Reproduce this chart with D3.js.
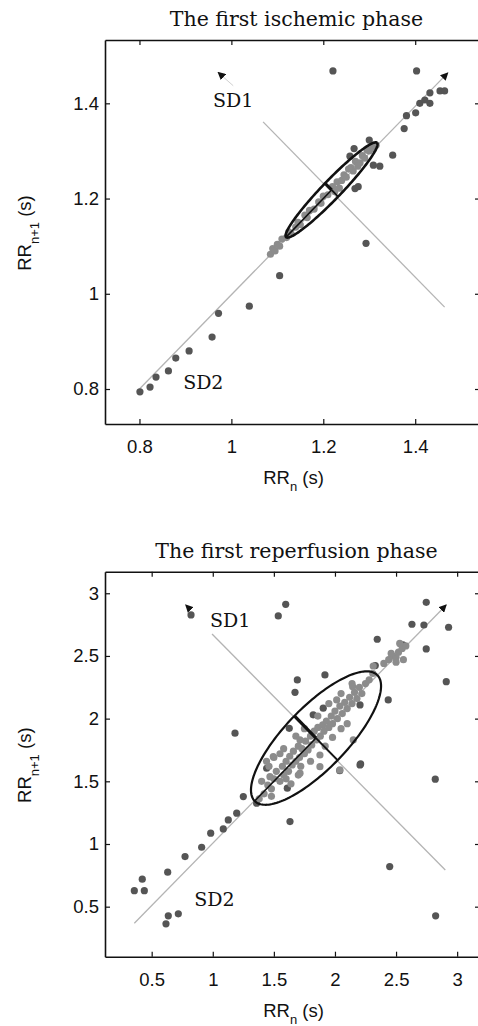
<!DOCTYPE html>
<html>
<head>
  <title>Poincare plots</title>
  <script src="https://d3js.org/d3.v7.min.js"></script>
  <style>
    body { margin: 0; background: #fff; }
    .tick-label, .axis-label { font-family: "Liberation Sans", Arial, sans-serif; font-size: 18.5px; fill: #111; }
    .title, .sd-label { font-family: "DejaVu Serif", serif; fill: #111; }
  </style>
</head>
<body>
  <script>
    // Titles of the two panels
    var titles = ["The first ischemic phase", "The first reperfusion phase"];

    // Tick values
    var xTicks1 = [0.8, 1, 1.2, 1.4];
    var yTicks1 = [0.8, 1, 1.2, 1.4];
    var xTicks2 = [0.5, 1, 1.5, 2, 2.5, 3];
    var yTicks2 = [0.5, 1, 1.5, 2, 2.5, 3];

    // Panel 1 points [RRn, RRn+1], scattered points
    var outer1 = [[1.221,1.468],[1.403,1.468],[1.432,1.422],[1.454,1.426],[1.464,1.426],[1.410,1.400],
      [1.432,1.400],[1.421,1.407],[1.401,1.380],[1.381,1.374],[1.376,1.347],[1.351,1.291],[1.300,1.323],
      [1.267,1.305],[1.309,1.270],[1.323,1.268],[1.276,1.225],[1.269,1.221],[1.293,1.106],[1.258,1.289],
      [1.105,1.038],[1.039,0.974],[0.972,0.959],[0.958,0.909],[0.908,0.880],[0.879,0.865],[0.863,0.838],
      [0.836,0.825],[0.823,0.804],[0.801,0.794]];
    // Panel 1 points inside the ellipse
    var inner1 = [[1.085,1.083],[1.090,1.095],[1.095,1.090],[1.100,1.104],[1.105,1.100],[1.110,1.115],
      [1.120,1.118],[1.125,1.130],[1.130,1.126],[1.140,1.140],[1.145,1.150],[1.150,1.145],[1.160,1.165],
      [1.165,1.160],[1.170,1.175],[1.180,1.178],[1.190,1.193],[1.195,1.190],[1.200,1.205],[1.210,1.208],
      [1.220,1.225],[1.225,1.215],[1.230,1.235],[1.240,1.238],[1.245,1.250],[1.250,1.245],[1.260,1.265],
      [1.265,1.258],[1.270,1.278],[1.280,1.275],[1.285,1.290],[1.290,1.285],[1.300,1.300],[1.305,1.310],
      [1.310,1.305],[1.315,1.312],[1.235,1.222],[1.255,1.262],[1.275,1.268],[1.295,1.302]];

    // Panel 2 points
    var outer2 = [[0.822,2.827],[1.597,2.912],[1.536,2.819],[1.182,1.884],[1.692,2.309],[1.673,2.210],
      [2.747,2.928],[2.930,2.729],[2.630,2.753],[2.728,2.747],[2.346,2.633],[2.747,2.556],[2.556,2.588],
      [2.911,2.295],[2.330,2.423],[1.918,2.349],[2.436,2.149],[2.039,1.585],[2.210,1.639],[2.821,1.517],
      [1.632,1.179],[2.448,0.820],[2.824,0.427],[1.250,1.378],[1.196,1.246],[1.127,1.192],[1.086,1.120],
      [0.983,1.086],[0.909,0.974],[0.773,0.900],[0.631,0.775],[0.423,0.719],[0.358,0.628],[0.440,0.628],
      [0.636,0.427],[0.718,0.443],[0.617,0.363],[2.205,2.109],[1.904,2.083],[1.822,2.030],[2.205,1.631],
      [1.626,1.923],[1.441,1.604],[1.610,1.445],[1.359,1.325]];
    var inner2 = [[1.38,1.36],[1.42,1.40],[1.45,1.47],[1.48,1.44],[1.50,1.52],[1.52,1.58],[1.55,1.50],
      [1.57,1.62],[1.58,1.55],[1.60,1.66],[1.62,1.58],[1.63,1.70],[1.65,1.63],[1.66,1.74],[1.68,1.66],
      [1.70,1.78],[1.71,1.69],[1.73,1.76],[1.75,1.72],[1.76,1.82],[1.78,1.75],[1.80,1.86],[1.81,1.79],
      [1.83,1.90],[1.85,1.83],[1.86,1.93],[1.88,1.86],[1.90,1.95],[1.91,1.90],[1.93,1.98],[1.95,1.93],
      [1.97,2.02],[1.98,1.96],[2.00,2.06],[2.02,2.00],[2.04,2.10],[2.06,2.04],[2.08,2.13],[2.10,2.08],
      [2.12,2.17],[2.14,2.12],[2.16,2.21],[2.18,2.16],[2.20,2.25],[2.22,2.20],[2.25,2.28],[2.28,2.31],
      [2.31,2.36],[1.46,1.62],[1.44,1.66],[1.50,1.69],[1.55,1.72],[1.60,1.52],[1.64,1.48],[1.70,1.55],
      [1.72,1.62],[1.58,1.76],[1.68,1.86],[1.75,1.92],[1.80,1.66],[1.92,1.78],[1.98,1.85],[2.05,1.92],
      [2.10,1.96],[1.86,2.02],[1.95,2.12],[2.05,2.20],[2.14,2.28],[1.40,1.50],[1.48,1.38],[2.145,2.255],
      [2.014,2.149],[1.495,1.697],[1.468,1.537],[1.714,1.565],[1.877,1.617],[1.877,1.710],[2.040,1.591],
      [2.313,2.420],[2.15,1.83],[1.714,1.83],[2.40,2.44],[2.44,2.47],[2.47,2.50],[2.50,2.49],[2.52,2.53],
      [2.55,2.56],[2.50,2.45],[2.56,2.47],[2.53,2.60],[2.58,2.58],[2.46,2.52]];

    // Poincare descriptors: ellipse centre, SD1, SD2
    var centres = [1.218, 1.845];
    var sd1 = [0.02, 0.25];
    var sd2 = [0.14, 0.71];

    // Line of identity (SD2 axis) and SD1 axis end points
    var sd2From = [[0.80, 0.80], [0.358, 0.368]];
    var sd2Tip = [[1.471, 1.464], [2.911, 2.907]];
    var sd1From = [[1.069, 1.361], [0.994, 2.675]];
    var sd1To = [[1.464, 0.972], [2.903, 0.793]];
    var sd1Tip = [[0.971, 1.465], [0.778, 2.907]];
    var sd1Shaft = [[1.004, 1.437], [0.790, 2.895]];

    // Label positions (data units)
    var sd1Pos = [[0.96, 1.392], [0.977, 2.734]];
    var sd2Pos = [[0.895, 0.801], [0.849, 0.509]];

    var panels = [
      { title: titles[0], xTicks: xTicks1, yTicks: yTicks1, outer: outer1, inner: inner1,
        xDom: [0.725, 1.541], yDom: [0.7265, 1.533], box: {left: 105, right: 480, top: 40, bottom: 424},
        tickFmt: function(d) { return d === 1 ? "1" : d3.format(".1f")(d); } },
      { title: titles[1], xTicks: xTicks2, yTicks: yTicks2, outer: outer2, inner: inner2,
        xDom: [0.118, 3.187], yDom: [0.101, 3.172], box: {left: 105, right: 480, top: 571.7, bottom: 956.7},
        tickFmt: function(d) { return d % 1 === 0 ? String(d) : d3.format(".1f")(d); } }
    ];

    var svg = d3.select("body").append("svg")
      .attr("width", 478)
      .attr("height", 1026);

    // Arrowhead marker
    svg.append("defs").append("marker")
      .attr("id", "arrow")
      .attr("viewBox", "0 0 10 10")
      .attr("refX", 9).attr("refY", 5)
      .attr("markerUnits", "userSpaceOnUse")
      .attr("markerWidth", 8).attr("markerHeight", 8)
      .attr("orient", "auto")
      .append("path")
      .attr("d", "M0,0 L10,5 L0,10 z")
      .attr("fill", "#111");

    panels.forEach(function(p, i) {
      var b = p.box;
      var x = d3.scaleLinear().domain(p.xDom).range([b.left, b.right]);
      var y = d3.scaleLinear().domain(p.yDom).range([b.bottom, b.top]);
      var g = svg.append("g");

      // Title
      g.append("text")
        .attr("class", "title")
        .attr("x", (b.left + b.right) / 2 + 4)
        .attr("y", b.top - 14)
        .attr("text-anchor", "middle")
        .style("font-size", "20.5px")
        .text(p.title);

      // Axis lines (SD2 identity line and SD1 perpendicular)
      g.append("line")
        .attr("x1", x(sd2From[i][0])).attr("y1", y(sd2From[i][1]))
        .attr("x2", x(sd2Tip[i][0])).attr("y2", y(sd2Tip[i][1]))
        .attr("stroke", "#b4b4b4").attr("stroke-width", 1.3)
        .attr("marker-end", "url(#arrow)");
      g.append("line")
        .attr("x1", x(sd1From[i][0])).attr("y1", y(sd1From[i][1]))
        .attr("x2", x(sd1To[i][0])).attr("y2", y(sd1To[i][1]))
        .attr("stroke", "#b4b4b4").attr("stroke-width", 1.3);
      g.append("line")
        .attr("x1", x(sd1Shaft[i][0])).attr("y1", y(sd1Shaft[i][1]))
        .attr("x2", x(sd1Tip[i][0])).attr("y2", y(sd1Tip[i][1]))
        .attr("stroke", "#d0d0d0").attr("stroke-width", 1)
        .attr("marker-end", "url(#arrow)");

      // Points
      g.selectAll(".outer")
        .data(p.outer)
        .enter().append("circle")
        .attr("cx", function(d) { return x(d[0]); })
        .attr("cy", function(d) { return y(d[1]); })
        .attr("r", 3.6)
        .attr("fill", "#555");
      g.selectAll(".inner")
        .data(p.inner)
        .enter().append("circle")
        .attr("cx", function(d) { return x(d[0]); })
        .attr("cy", function(d) { return y(d[1]); })
        .attr("r", 3.6)
        .attr("fill", "#8c8c8c");

      // Ellipse SD1 x SD2
      var c = centres[i], u = Math.SQRT1_2;
      var pts = d3.range(0, 2 * Math.PI + 0.01, Math.PI / 90).map(function(t) {
        var a = sd2[i] * Math.cos(t), bb = sd1[i] * Math.sin(t);
        return [x(c + (a - bb) * u), y(c + (a + bb) * u)];
      });
      g.append("path")
        .attr("d", d3.line()(pts))
        .attr("fill", "none")
        .attr("stroke", "#111")
        .attr("stroke-width", i === 0 ? 2.6 : 2.2);
      // major half axis (centre -> lower tip)
      g.append("line")
        .attr("x1", x(c)).attr("y1", y(c))
        .attr("x2", x(c - sd2[i] * u)).attr("y2", y(c - sd2[i] * u))
        .attr("stroke", "#111").attr("stroke-width", 1.6);
      // minor axis
      g.append("line")
        .attr("x1", x(c)).attr("y1", y(c))
        .attr("x2", x(c - sd1[i] * u)).attr("y2", y(c + sd1[i] * u))
        .attr("stroke", "#111").attr("stroke-width", 3.2);
      g.append("line")
        .attr("x1", x(c)).attr("y1", y(c))
        .attr("x2", x(c + sd1[i] * u)).attr("y2", y(c - sd1[i] * u))
        .attr("stroke", "#111").attr("stroke-width", 1.8);

      // SD labels
      g.append("text").attr("class", "sd-label")
        .attr("x", x(sd1Pos[i][0])).attr("y", y(sd1Pos[i][1]))
        .style("font-size", "19px").text("SD1");
      g.append("text").attr("class", "sd-label")
        .attr("x", x(sd2Pos[i][0])).attr("y", y(sd2Pos[i][1]))
        .style("font-size", "19px").text("SD2");

      // Axes, ticks inward on all four sides (box on)
      g.append("g")
        .attr("transform", "translate(0," + b.bottom + ")")
        .call(d3.axisBottom(x).tickValues(p.xTicks).tickSizeInner(-5).tickSizeOuter(0).tickFormat(p.tickFmt))
        .call(function(s) {
          s.selectAll("text").attr("class", "tick-label").attr("dy", null).attr("y", 29);
        });
      g.append("g")
        .attr("transform", "translate(" + b.left + ",0)")
        .call(d3.axisLeft(y).tickValues(p.yTicks).tickSizeInner(-5).tickSizeOuter(0).tickFormat(p.tickFmt))
        .call(function(s) {
          s.selectAll("text").attr("class", "tick-label").attr("x", -6);
        });
      g.append("g")
        .attr("transform", "translate(0," + b.top + ")")
        .call(d3.axisTop(x).tickValues(p.xTicks).tickSizeInner(-5).tickSizeOuter(0).tickFormat(""));
      g.append("g")
        .attr("transform", "translate(" + b.right + ",0)")
        .call(d3.axisRight(y).tickValues(p.yTicks).tickSizeInner(-5).tickSizeOuter(0).tickFormat(""));
      g.selectAll(".domain").attr("stroke", "#111").attr("stroke-width", 1.6);
      g.selectAll(".tick line").attr("stroke", "#111").attr("stroke-width", 1.2);

      // Axis labels
      var xl = g.append("text").attr("class", "axis-label")
        .attr("x", (b.left + b.right) / 2 + 1)
        .attr("y", b.bottom + 60)
        .attr("text-anchor", "middle");
      xl.append("tspan").text("RR");
      xl.append("tspan").attr("dy", 7).style("font-size", "13px").text("n");
      xl.append("tspan").attr("dy", -7).text(" (s)");

      var yl = g.append("text").attr("class", "axis-label")
        .attr("transform", "translate(31," + ((b.top + b.bottom) / 2 + 1) + ") rotate(-90)")
        .attr("text-anchor", "middle");
      yl.append("tspan").text("RR");
      yl.append("tspan").attr("dy", 8).style("font-size", "13px").text("n+1");
      yl.append("tspan").attr("dy", -8).text(" (s)");
    });
  </script>
</body>
</html>
